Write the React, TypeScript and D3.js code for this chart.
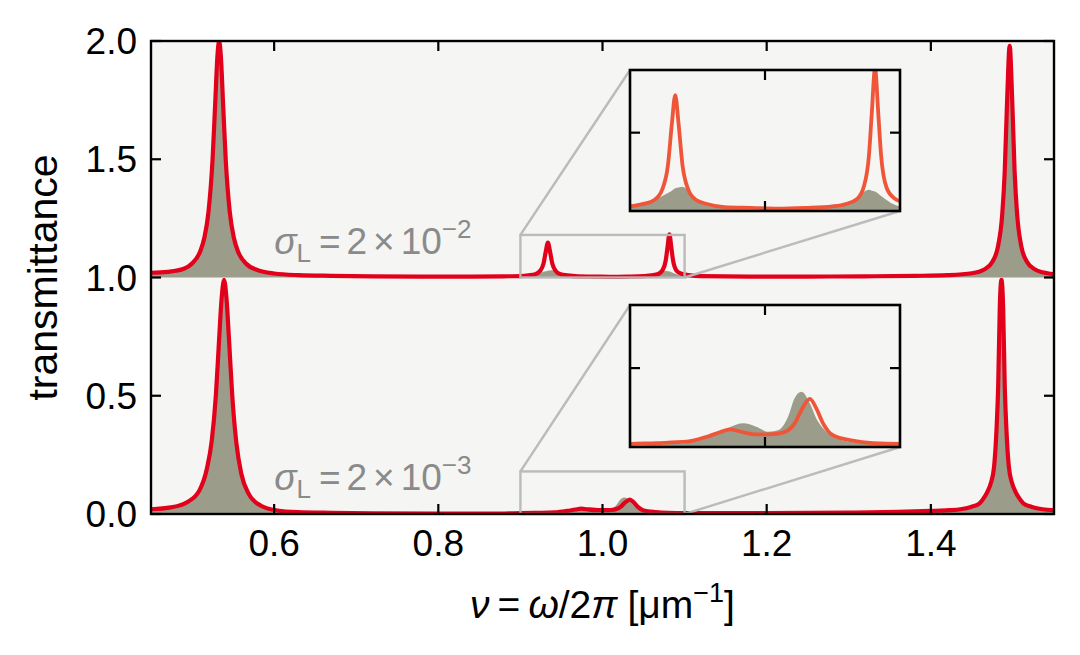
import React from "react";
import * as d3 from "d3";

// frequency grid and transmittance, sigma_L = 2e-2 (drawn shifted up by 1)
const nuTop = [
  0.45, 0.47, 0.49, 0.5, 0.51, 0.515, 0.52, 0.525, 0.528, 0.531, 0.533, 0.535, 0.538, 0.541, 0.546, 0.551,
  0.556, 0.566, 0.58, 0.6, 0.63, 0.67, 0.72, 0.78, 0.84, 0.88, 0.9, 0.91, 0.918, 0.924, 0.928, 0.931,
  0.9335, 0.936, 0.939, 0.943, 0.949, 0.957, 0.97, 0.99, 1.01, 1.03, 1.05, 1.06, 1.068, 1.073, 1.077, 1.079,
  1.0815, 1.084, 1.086, 1.09, 1.096, 1.105, 1.12, 1.18, 1.25, 1.32, 1.38, 1.42, 1.45, 1.465, 1.475, 1.482,
  1.487, 1.49, 1.493, 1.496, 1.499, 1.502, 1.505, 1.51, 1.517, 1.527, 1.542, 1.55,
];
const topRed = [
  0.02, 0.024, 0.037, 0.059, 0.111, 0.168, 0.277, 0.5, 0.72, 0.94, 1.0, 0.94, 0.72, 0.5, 0.276, 0.167,
  0.11, 0.058, 0.031, 0.017, 0.01, 0.007, 0.005, 0.004, 0.004, 0.005, 0.006, 0.009, 0.014, 0.028, 0.057, 0.111,
  0.148, 0.111, 0.057, 0.028, 0.014, 0.009, 0.005, 0.004, 0.003, 0.004, 0.006, 0.009, 0.015, 0.03, 0.071, 0.122,
  0.182, 0.122, 0.071, 0.03, 0.016, 0.01, 0.006, 0.004, 0.004, 0.005, 0.007, 0.01, 0.018, 0.034, 0.067, 0.135,
  0.27, 0.45, 0.76, 0.98, 0.76, 0.45, 0.27, 0.135, 0.067, 0.034, 0.018, 0.014,
];
const topGray = [
  0.02, 0.024, 0.037, 0.059, 0.111, 0.168, 0.277, 0.5, 0.72, 0.94, 1.0, 0.94, 0.72, 0.5, 0.276, 0.167,
  0.11, 0.058, 0.031, 0.017, 0.01, 0.007, 0.005, 0.004, 0.004, 0.005, 0.008, 0.011, 0.015, 0.019, 0.023, 0.026,
  0.029, 0.03, 0.031, 0.026, 0.014, 0.007, 0.004, 0.002, 0.002, 0.003, 0.006, 0.01, 0.017, 0.024, 0.027, 0.026,
  0.025, 0.022, 0.019, 0.014, 0.008, 0.005, 0.004, 0.004, 0.004, 0.005, 0.007, 0.01, 0.018, 0.034, 0.067, 0.135,
  0.27, 0.45, 0.76, 0.98, 0.76, 0.45, 0.27, 0.135, 0.067, 0.034, 0.018, 0.014,
];

// sigma_L = 2e-3
const nuBottom = [
  0.45, 0.474, 0.494, 0.509, 0.518, 0.524, 0.529, 0.533, 0.536, 0.539, 0.542, 0.545, 0.549, 0.554, 0.56, 0.569,
  0.584, 0.604, 0.629, 0.67, 0.72, 0.8, 0.88, 0.9, 0.92, 0.942, 0.957, 0.967, 0.974, 0.984, 0.993, 1.0025,
  1.01, 1.017, 1.022, 1.027, 1.0333, 1.038, 1.043, 1.05, 1.065, 1.08, 1.1, 1.2, 1.3, 1.36, 1.4, 1.422,
  1.436, 1.449, 1.459, 1.464, 1.469, 1.473, 1.477, 1.48, 1.482, 1.484, 1.486, 1.488, 1.49, 1.492, 1.495, 1.499,
  1.503, 1.508, 1.513, 1.523, 1.536, 1.55,
];
const bottomRed = [
  0.02, 0.028, 0.05, 0.1, 0.19, 0.31, 0.5, 0.74, 0.91, 0.99, 0.91, 0.74, 0.5, 0.3, 0.17, 0.085,
  0.035, 0.015, 0.008, 0.005, 0.003, 0.002, 0.002, 0.004, 0.005, 0.0067, 0.013, 0.019, 0.0224, 0.0186, 0.016, 0.016,
  0.017, 0.021, 0.03, 0.047, 0.061, 0.049, 0.03, 0.0152, 0.008, 0.005, 0.004, 0.004, 0.006, 0.009, 0.013, 0.016,
  0.02, 0.03, 0.044, 0.065, 0.095, 0.13, 0.2, 0.36, 0.54, 0.88, 0.99, 0.88, 0.54, 0.36, 0.2, 0.13,
  0.095, 0.065, 0.044, 0.03, 0.02, 0.016,
];
const bottomGray = [
  0.02, 0.028, 0.05, 0.1, 0.19, 0.31, 0.5, 0.74, 0.91, 0.99, 0.91, 0.74, 0.5, 0.3, 0.17, 0.085,
  0.035, 0.015, 0.008, 0.005, 0.003, 0.002, 0.002, 0.002, 0.003, 0.005, 0.011, 0.019, 0.025, 0.03, 0.026, 0.0194,
  0.0215, 0.038, 0.062, 0.07, 0.055, 0.036, 0.0237, 0.013, 0.006, 0.004, 0.003, 0.004, 0.006, 0.009, 0.013, 0.016,
  0.02, 0.03, 0.044, 0.065, 0.095, 0.13, 0.2, 0.36, 0.54, 0.88, 0.99, 0.88, 0.54, 0.36, 0.2, 0.13,
  0.095, 0.065, 0.044, 0.03, 0.02, 0.016,
];

const xTicks = [0.6, 0.8, 1.0, 1.2, 1.4];
const yTicks = [0, 0.5, 1, 1.5, 2];
const zoomRange = [0.9, 1.1];
const zoomHeight = 0.18;
const insetXTicks = [1.0];
const insetYTicks = [0.1];

const W = 1080;
const H = 655;
const plot = { x0: 151, x1: 1054, y0: 41, y1: 514 };

const bg = "#f5f5f3";
const grayFill = "#9c9c8a";
const red = "#e3001b";
const insetRed = "#ef5538";
const boxGray = "#b8b8b8";
const font = "'Liberation Sans', Arial, sans-serif";

const x = d3.scaleLinear().domain([0.45, 1.55]).range([plot.x0, plot.x1]);
const y = d3.scaleLinear().domain([0, 2]).range([plot.y1, plot.y0]);

const panels = [
  { offset: 1, nu: nuTop, gray: topGray, red: topRed, exp: "−2", inset: { x0: 630, x1: 900, y0: 70, y1: 211 } },
  { offset: 0, nu: nuBottom, gray: bottomGray, red: bottomRed, exp: "−3", inset: { x0: 630, x1: 900, y0: 305, y1: 447 } },
];

const Label = ({ px, py, exp }: { px: number; py: number; exp: string }) => (
  <text x={px} y={py} fill="#8a8a8a" fontSize={37} fontFamily={font}>
    <tspan fontStyle="italic">σ</tspan>
    <tspan fontSize={26} dy={8}>L</tspan>
    <tspan dy={-8} dx={8}>=</tspan>
    <tspan dx={6}>2</tspan>
    <tspan dx={6}>×</tspan>
    <tspan dx={6}>10</tspan>
    <tspan fontSize={26} dy={-16}>{exp}</tspan>
  </text>
);

export default function App() {
  return (
    <div style={{ position: "absolute", left: 0, top: 0 }}>
      <svg width={W} height={H} style={{ display: "block", background: "#fff" }}>
        <defs>
          <clipPath id="plotClip">
            <rect x={plot.x0} y={plot.y0} width={plot.x1 - plot.x0} height={plot.y1 - plot.y0} />
          </clipPath>
          {panels.map((p, i) => (
            <clipPath id={`insetClip${i}`} key={i}>
              <rect x={p.inset.x0} y={p.inset.y0} width={p.inset.x1 - p.inset.x0} height={p.inset.y1 - p.inset.y0} />
            </clipPath>
          ))}
        </defs>
        <rect x={plot.x0} y={plot.y0} width={plot.x1 - plot.x0} height={plot.y1 - plot.y0} fill={bg} />

        <g clipPath="url(#plotClip)">
          {panels.map((p, i) => {
            const area = d3
              .area<number>()
              .x((_, j) => x(p.nu[j]))
              .y0(y(p.offset))
              .y1((d) => y(p.offset + d))
              .curve(d3.curveMonotoneX);
            const line = d3
              .line<number>()
              .x((_, j) => x(p.nu[j]))
              .y((d) => y(p.offset + d))
              .curve(d3.curveMonotoneX);
            return (
              <g key={i}>
                <path d={area(p.gray) || ""} fill={grayFill} />
                <path d={line(p.red) || ""} fill="none" stroke={red} strokeWidth={4.2} strokeLinejoin="round" />
              </g>
            );
          })}
        </g>

        {panels.map((p, i) => {
          const rx0 = x(zoomRange[0]);
          const rx1 = x(zoomRange[1]);
          const ry0 = y(p.offset + zoomHeight);
          const ry1 = y(p.offset);
          return (
            <g key={i} fill="none" stroke={boxGray} strokeWidth={2.4} opacity={0.95}>
              <rect x={rx0} y={ry0} width={rx1 - rx0} height={ry1 - ry0} />
              <line x1={rx0} y1={ry0} x2={p.inset.x0} y2={p.inset.y0} />
              <line x1={rx1} y1={ry1} x2={p.inset.x1} y2={p.inset.y1} />
            </g>
          );
        })}

        {panels.map((p, i) => {
          const ix = d3.scaleLinear().domain(zoomRange).range([p.inset.x0, p.inset.x1]);
          const iy = d3.scaleLinear().domain([p.offset, p.offset + zoomHeight]).range([p.inset.y1, p.inset.y0]);
          const area = d3
            .area<number>()
            .x((_, j) => ix(p.nu[j]))
            .y0(iy(p.offset))
            .y1((d) => iy(p.offset + d))
            .curve(d3.curveMonotoneX);
          const line = d3
            .line<number>()
            .x((_, j) => ix(p.nu[j]))
            .y((d) => iy(p.offset + d))
            .curve(d3.curveMonotoneX);
          const tl = 10;
          return (
            <g key={i}>
              <rect x={p.inset.x0} y={p.inset.y0} width={p.inset.x1 - p.inset.x0} height={p.inset.y1 - p.inset.y0} fill={bg} />
              <g clipPath={`url(#insetClip${i})`}>
                <path d={area(p.gray) || ""} fill={grayFill} />
                <path d={line(p.red) || ""} fill="none" stroke={insetRed} strokeWidth={3.8} strokeLinejoin="round" />
              </g>
              <g stroke="#000" strokeWidth={2.2}>
                {insetXTicks.map((t) => (
                  <g key={t}>
                    <line x1={ix(t)} x2={ix(t)} y1={p.inset.y0} y2={p.inset.y0 + tl} />
                    <line x1={ix(t)} x2={ix(t)} y1={p.inset.y1} y2={p.inset.y1 - tl} />
                  </g>
                ))}
                {insetYTicks.map((t) => (
                  <g key={t}>
                    <line x1={p.inset.x0} x2={p.inset.x0 + tl} y1={iy(p.offset + t)} y2={iy(p.offset + t)} />
                    <line x1={p.inset.x1} x2={p.inset.x1 - tl} y1={iy(p.offset + t)} y2={iy(p.offset + t)} />
                  </g>
                ))}
              </g>
              <rect
                x={p.inset.x0}
                y={p.inset.y0}
                width={p.inset.x1 - p.inset.x0}
                height={p.inset.y1 - p.inset.y0}
                fill="none"
                stroke="#000"
                strokeWidth={2.6}
              />
            </g>
          );
        })}

        {panels.map((p, i) => (
          <Label key={i} px={x(0.6)} py={y(p.offset + 0.1)} exp={p.exp} />
        ))}

        {/* frame and ticks */}
        <g stroke="#000" strokeWidth={2.2}>
          {xTicks.map((t) => (
            <g key={t}>
              <line x1={x(t)} x2={x(t)} y1={plot.y1} y2={plot.y1 - 10} />
              <line x1={x(t)} x2={x(t)} y1={plot.y0} y2={plot.y0 + 10} />
            </g>
          ))}
          {yTicks.map((t) => (
            <g key={t}>
              <line x1={plot.x0} x2={plot.x0 + 10} y1={y(t)} y2={y(t)} />
              <line x1={plot.x1} x2={plot.x1 - 10} y1={y(t)} y2={y(t)} />
            </g>
          ))}
        </g>
        <rect
          x={plot.x0}
          y={plot.y0}
          width={plot.x1 - plot.x0}
          height={plot.y1 - plot.y0}
          fill="none"
          stroke="#000"
          strokeWidth={2.4}
        />

        <g fontFamily={font} fontSize={37} fill="#000">
          {xTicks.map((t) => (
            <text key={t} x={x(t)} y={plot.y1 + 42} textAnchor="middle">
              {t.toFixed(1)}
            </text>
          ))}
          {yTicks.map((t) => (
            <text key={t} x={plot.x0 - 14} y={y(t) + 13} textAnchor="end">
              {t.toFixed(1)}
            </text>
          ))}
        </g>

        <text
          transform={`translate(57,${(plot.y0 + plot.y1) / 2}) rotate(-90)`}
          textAnchor="middle"
          fontFamily={font}
          fontSize={41}
        >
          transmittance
        </text>

        <text x={x(1.0)} y={618} textAnchor="middle" fontFamily={font} fontSize={39}>
          <tspan fontStyle="italic">ν</tspan>
          <tspan dx={8}>=</tspan>
          <tspan dx={8} fontStyle="italic">ω</tspan>
          <tspan>/2</tspan>
          <tspan fontStyle="italic">π</tspan>
          <tspan dx={10}>[μm</tspan>
          <tspan fontSize={27} dy={-16}>−1</tspan>
          <tspan dy={16}>]</tspan>
        </text>
      </svg>
    </div>
  );
}
